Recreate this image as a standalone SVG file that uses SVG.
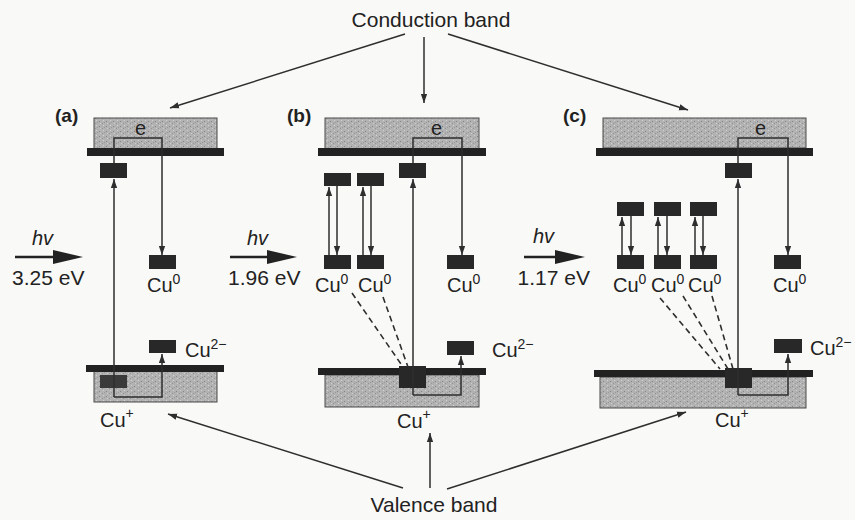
<svg xmlns="http://www.w3.org/2000/svg" width="855" height="520" viewBox="0 0 855 520">
<style>
text{font-family:"Liberation Sans",Arial,sans-serif;fill:#222}
.lbl{font-size:20px}
.big{font-size:21px}
.tag{font-size:19px;font-weight:bold}
.hv{font-size:20px;font-style:italic}
.sup{font-size:14px}
.band{fill:url(#speck);stroke:#4a4a4a;stroke-width:1}
.bar{fill:#222}
.blk{fill:#282828}
.arr{fill:none;stroke:#2e2e2e;stroke-width:1.5;marker-end:url(#ah)}
.dash{fill:none;stroke:#2e2e2e;stroke-width:1.6;stroke-dasharray:6 4}
.shaft{stroke:#222;stroke-width:2.5}
.head{fill:#222}
</style>
<defs>
<pattern id="speck" width="7" height="5" patternUnits="userSpaceOnUse">
<rect width="7" height="5" fill="#b2b2b2"/>
<rect x="1" y="1" width="1" height="1" fill="#858585"/>
<rect x="4" y="3" width="1" height="1" fill="#939393"/>
<rect x="5" y="0" width="1" height="1" fill="#d2d2d2"/>
<rect x="2" y="3" width="1" height="1" fill="#cccccc"/>
<rect x="6" y="2" width="1" height="1" fill="#999"/>
</pattern>
<marker id="ah" viewBox="0 0 10 10" refX="10" refY="5" markerWidth="9" markerHeight="9" markerUnits="userSpaceOnUse" orient="auto">
<path d="M0,1.5 L10,5 L0,8.5 z" fill="#2e2e2e"/>
</marker>
</defs>
<rect width="855" height="520" fill="#f9f9f7"/>

<g id="conduction-band-label"><text class="big" x="431" y="27" text-anchor="middle">Conduction band</text></g>
<g id="valence-band-label"><text class="big" x="434" y="512" text-anchor="middle">Valence band</text></g>

<!-- Panel a -->
<g id="a-tag"><text class="tag" x="55" y="122">(a)</text></g>
<g id="a-cb"><rect class="band" x="94" y="118" width="123" height="31"/><rect class="bar" x="87" y="148" width="137" height="8"/><text class="lbl" x="135" y="135">e</text></g>
<g id="a-trap"><rect class="blk" x="100" y="163" width="27" height="15"/></g>
<g id="a-cu0"><rect class="blk" x="149" y="255" width="27" height="14"/><text class="lbl" x="147" y="292">Cu<tspan class="sup" dy="-8">0</tspan></text></g>
<g id="a-cu2"><rect class="blk" x="149" y="340" width="27" height="13"/><text class="lbl" x="185" y="357">Cu<tspan class="sup" dy="-8">2−</tspan></text></g>
<g id="a-vb"><rect class="band" x="94" y="371" width="123" height="31"/><rect class="bar" x="86" y="365" width="138" height="7"/><rect x="100" y="375" width="27" height="13" fill="#3a3a3a"/><text class="lbl" x="100" y="427">Cu<tspan class="sup" dy="-9">+</tspan></text></g>
<g id="a-hv"><text class="hv" x="32" y="245">hv</text><line class="shaft" x1="15" y1="257" x2="56" y2="257"/><polygon class="head" points="53,250 83,257 53,264"/><text class="big" x="12" y="285">3.25 eV</text></g>

<!-- Panel b -->
<g id="b-tag"><text class="tag" x="287" y="122">(b)</text></g>
<g id="b-cb"><rect class="band" x="325" y="118" width="154" height="31"/><rect class="bar" x="318" y="148" width="168" height="8"/><text class="lbl" x="431" y="135">e</text></g>
<g id="b-trap"><rect class="blk" x="399" y="163" width="27" height="15"/></g>
<g id="b-up1"><rect class="blk" x="324" y="173" width="27" height="13"/></g>
<g id="b-up2"><rect class="blk" x="357" y="173" width="27" height="13"/></g>
<g id="b-cu0a"><rect class="blk" x="324" y="255" width="27" height="14"/><text class="lbl" x="315" y="292">Cu<tspan class="sup" dy="-8">0</tspan></text></g>
<g id="b-cu0b"><rect class="blk" x="357" y="255" width="27" height="14"/><text class="lbl" x="358" y="292">Cu<tspan class="sup" dy="-8">0</tspan></text></g>
<g id="b-cu0c"><rect class="blk" x="447" y="255" width="27" height="14"/><text class="lbl" x="447" y="292">Cu<tspan class="sup" dy="-8">0</tspan></text></g>
<g id="b-cu2"><rect class="blk" x="447" y="341" width="27" height="14"/><text class="lbl" x="492" y="357">Cu<tspan class="sup" dy="-8">2−</tspan></text></g>
<g id="b-vb"><rect class="band" x="325" y="375" width="154" height="32"/><rect class="bar" x="318" y="368" width="168" height="7"/><rect class="blk" x="399" y="366" width="27" height="22"/><text class="lbl" x="397" y="428">Cu<tspan class="sup" dy="-9">+</tspan></text></g>
<g id="b-hv"><text class="hv" x="247" y="245">hv</text><line class="shaft" x1="230" y1="257" x2="270" y2="257"/><polygon class="head" points="267,250 297,257 267,264"/><text class="big" x="228" y="285">1.96 eV</text></g>

<!-- Panel c -->
<g id="c-tag"><text class="tag" x="563" y="122">(c)</text></g>
<g id="c-cb"><rect class="band" x="603" y="118" width="203" height="30"/><rect class="bar" x="596" y="148" width="217" height="8"/><text class="lbl" x="755" y="135">e</text></g>
<g id="c-trap"><rect class="blk" x="725" y="163" width="27" height="15"/></g>
<g id="c-up1"><rect class="blk" x="617" y="202" width="27" height="14"/></g>
<g id="c-up2"><rect class="blk" x="654" y="202" width="27" height="14"/></g>
<g id="c-up3"><rect class="blk" x="690" y="202" width="27" height="14"/></g>
<g id="c-cu0a"><rect class="blk" x="617" y="255" width="27" height="14"/><text class="lbl" x="613" y="292">Cu<tspan class="sup" dy="-8">0</tspan></text></g>
<g id="c-cu0b"><rect class="blk" x="654" y="255" width="27" height="14"/><text class="lbl" x="651" y="292">Cu<tspan class="sup" dy="-8">0</tspan></text></g>
<g id="c-cu0c"><rect class="blk" x="690" y="255" width="27" height="14"/><text class="lbl" x="688" y="292">Cu<tspan class="sup" dy="-8">0</tspan></text></g>
<g id="c-cu0d"><rect class="blk" x="774" y="255" width="27" height="14"/><text class="lbl" x="773" y="292">Cu<tspan class="sup" dy="-8">0</tspan></text></g>
<g id="c-cu2"><rect class="blk" x="774" y="339" width="28" height="14"/><text class="lbl" x="810" y="355">Cu<tspan class="sup" dy="-8">2−</tspan></text></g>
<g id="c-vb"><rect class="band" x="600" y="377" width="206" height="31"/><rect class="bar" x="594" y="370" width="219" height="7"/><rect class="blk" x="725" y="368" width="27" height="20"/><text class="lbl" x="715" y="427">Cu<tspan class="sup" dy="-9">+</tspan></text></g>
<g id="c-hv"><text class="hv" x="533" y="243">hv</text><line class="shaft" x1="524" y1="257" x2="558" y2="257"/><polygon class="head" points="555,250 585,257 555,264"/><text class="big" x="590" y="285" text-anchor="end">1.17 eV</text></g>

<g id="connectors">
<line class="arr" x1="405" y1="34" x2="170" y2="108"/>
<line class="arr" x1="424" y1="37" x2="424" y2="103"/>
<line class="arr" x1="448" y1="34" x2="688" y2="110"/>
<line class="arr" x1="403" y1="488" x2="168" y2="414"/>
<line class="arr" x1="430" y1="488" x2="430" y2="433"/>
<line class="arr" x1="447" y1="489" x2="686" y2="412"/>
<path class="arr" d="M114,163 V138 H162 V255"/>
<path class="arr" d="M114,397 V179"/>
<path class="arr" d="M114,397 H162 V354"/>
<path class="arr" d="M413,163 V138 H462 V255"/>
<path class="arr" d="M413,395 V179"/>
<path class="arr" d="M413,395 H461 V356"/>
<path class="arr" d="M329,255 V187"/>
<path class="arr" d="M337,186 V255"/>
<path class="arr" d="M363,255 V187"/>
<path class="arr" d="M371,186 V255"/>
<line class="dash" x1="352" y1="293" x2="403" y2="367"/>
<line class="dash" x1="383" y1="297" x2="408" y2="367"/>
<path class="arr" d="M738,163 V138 H788 V255"/>
<path class="arr" d="M738,395 V179"/>
<path class="arr" d="M738,395 H788 V354"/>
<path class="arr" d="M622,255 V217"/>
<path class="arr" d="M631,216 V255"/>
<path class="arr" d="M658,255 V217"/>
<path class="arr" d="M667,216 V255"/>
<path class="arr" d="M695,255 V217"/>
<path class="arr" d="M703,216 V255"/>
<line class="dash" x1="660" y1="298" x2="720" y2="369"/>
<line class="dash" x1="683" y1="296" x2="728" y2="369"/>
<line class="dash" x1="712" y1="296" x2="733" y2="369"/>
</g>
</svg>
